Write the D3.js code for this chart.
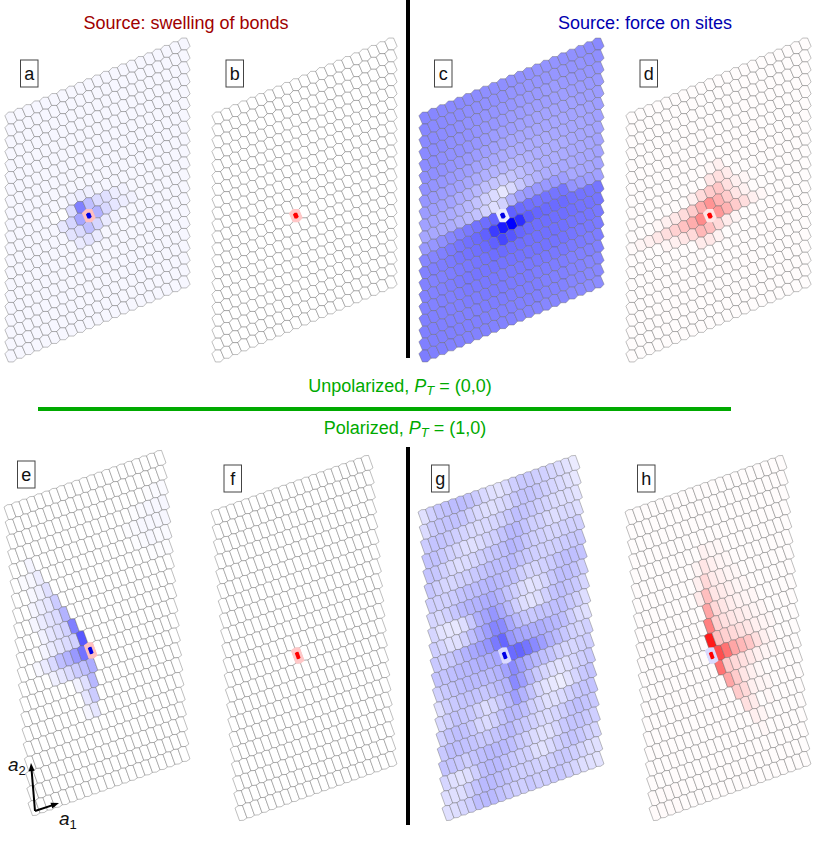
<!DOCTYPE html>
<html>
<head>
<meta charset="utf-8">
<script src="https://cdn.jsdelivr.net/npm/d3@7"></script>
<style>
  body { margin: 0; background: #fff; }
  text { font-family: "Liberation Sans", Arial, sans-serif; }
</style>
</head>
<body>
<div id="chart"></div>
<script>
// lattice size, cells per side
var latticeSize = 21;
var markedCell = [9, 11];   // column, row counted from the top

var panelLabels = ["a", "b", "c", "d", "e", "f", "g", "h"];

// values are percent of full colour, + blue, - red
var markedValues = [-25, -22, 8, -10, -25, -22, 14, 14];
var markerSigns = [1, -1, 1, -1, 1, -1, 1, -1];
var baseValues = [3, 0, 0, -1, 0, 0, 0, -1];

// sparse panels: [column, row, value]
var spotsA = [[8,10,50],[9,10,25],[10,11,30],[8,11,35],[9,12,25],[10,12,16],[11,11,15],[12,11,10],[13,11,7],[14,11,5],[11,10,12],[12,10,7],[13,10,5],
  [10,10,14],[7,11,16],[7,10,13],[6,11,9],[7,12,11],[8,12,14],[8,13,8],[9,13,11],[10,13,8],[11,12,8],[12,12,5],[6,10,0],[5,10,1],[8,9,7],[9,9,6],[7,9,5]];
var spotsB = [];
var spotsD = [[8,11,-45],[7,11,-32],[6,11,-24],[5,11,-18],[4,11,-13],[3,11,-9],[2,11,-6],[1,11,-4],[0,11,-2],
  [7,10,-20],[6,10,-14],[5,10,-9],[4,10,-6],[3,10,-3],[8,12,-28],[7,12,-15],[6,12,-10],[5,12,-6],[4,12,-4],
  [9,10,-42],[9,9,-20],[10,9,-22],[10,8,-12],[10,7,-6],[9,8,-10],[11,8,-8],[8,10,-32],[8,9,-14],[7,9,-6],
  [10,11,-40],[11,11,-30],[12,11,-20],[13,11,-13],[14,11,-6],[15,11,-3],[10,10,-30],[11,10,-20],[12,10,-10],[13,10,-5],
  [9,12,-25],[10,12,-15],[11,12,-8],[12,12,-4],[9,13,-9],[8,13,-8],[10,13,-5],[11,9,-12],[12,9,-6],[13,9,-3],[9,7,-3]];
var spotsE = [[8,10,65],[7,9,50],[6,8,30],[5,7,20],[4,6,12],[3,5,7],[2,4,4],
  [8,11,55],[7,11,40],[6,11,30],[5,11,25],[4,11,15],[3,11,8],[2,11,3],
  [9,12,32],[9,13,28],[9,14,20],[9,15,10],[8,12,25],[8,13,12],[8,14,10],[8,15,4],[7,12,20],[6,12,14],[5,12,10],[4,12,6],[7,13,5],
  [7,10,18],[6,10,14],[5,10,11],[4,10,8],[3,10,4],[6,9,18],[5,9,13],[4,9,10],[3,9,5],[5,8,14],[4,8,11],[3,8,8],[2,8,4],
  [4,7,10],[3,7,7],[2,7,4],[3,6,6],[2,6,3],[2,5,3],[1,5,2],
  [18,2,1],[19,2,2],[20,2,2],[16,3,1],[17,3,2],[18,3,3],[19,3,3],[20,3,3],[15,4,1],[16,4,2],[17,4,3],[18,4,3],[19,4,3],[20,4,3],
  [16,5,1],[17,5,2],[18,5,3],[19,5,2],[20,5,2],[18,6,1],[19,6,1],[20,6,1]];
var spotsF = [];
var spotsH = [[9,10,-90],[9,9,-50],[9,8,-35],[9,7,-25],[9,6,-15],[9,5,-10],[9,4,-5],[8,7,-8],[8,6,-6],[8,5,-4],
  [10,11,-70],[11,11,-55],[12,11,-35],[13,11,-28],[14,11,-22],[15,11,-12],[16,11,-6],[17,11,-3],
  [10,12,-55],[11,13,-35],[12,14,-20],[13,15,-12],[14,16,-6],[15,17,-3],[12,13,-20],[13,14,-15],[14,15,-8],[15,16,-4],[13,13,-10],[14,14,-6],[15,14,-4],[14,13,-6],[15,13,-3],[16,14,-3],[16,15,-3],
  [11,12,-20],[12,12,-15],[13,12,-12],[14,12,-9],[15,12,-6],[16,12,-4],[17,12,-3],
  [10,10,-25],[11,10,-18],[12,10,-15],[13,10,-12],[14,10,-10],[15,10,-6],[16,10,-4],[17,10,-3],
  [10,9,-18],[11,9,-12],[12,9,-10],[13,9,-8],[14,9,-6],[15,9,-4],[16,9,-3],
  [10,8,-15],[11,8,-10],[12,8,-7],[13,8,-5],[14,8,-4],[15,8,-3],[10,7,-10],[11,7,-8],[12,7,-6],[13,7,-4],[14,7,-3],
  [10,6,-8],[11,6,-6],[12,6,-4],[13,6,-3],[10,5,-6],[11,5,-4],[12,5,-3],[10,4,-3],[11,4,-3],
  [0,19,-2],[1,19,-2],[2,19,-2],[3,19,-2],[0,20,-2],[1,20,-2],[2,20,-2],[3,20,-2]];

// dense panels, one line per lattice row from the top
var rowsC = [
  [47,47,46,46,46,45,45,44,44,44,43,43,43,42,42,42,43,43,44,45,46],
  [47,46,46,45,45,44,44,43,43,43,42,42,41,41,41,41,41,42,42,43,44],
  [46,46,45,45,44,43,43,42,42,41,41,40,40,40,39,39,40,40,41,41,42],
  [46,45,45,44,43,43,42,41,41,40,39,39,38,38,38,38,38,39,39,40,40],
  [45,45,44,43,43,42,41,40,39,38,38,37,37,36,36,36,37,37,38,38,39],
  [44,44,43,42,41,40,39,38,37,36,35,35,35,35,35,35,35,36,36,37,38],
  [43,42,41,40,39,38,36,35,34,33,33,33,33,33,33,34,34,35,35,36,37],
  [41,40,39,38,37,35,33,31,30,29,29,30,31,32,32,33,33,34,35,35,36],
  [39,38,37,36,33,31,28,25,23,21,23,26,29,31,32,32,33,34,34,35,36],
  [37,36,34,33,31,28,24,19,14,10,15,22,27,30,32,33,34,34,35,35,36],
  [35,34,33,32,30,27,24,18,13,18,30,38,40,40,40,40,38,34,35,35,36],
  [40,41,44,47,50,52,55,57,60,8,62,58,56,55,55,54,54,42,40,38,37],
  [47,48,50,52,54,56,58,62,76,90,100,82,64,60,58,58,58,56,55,54,54],
  [49,50,51,52,54,55,56,58,62,72,66,60,58,57,57,57,57,56,55,55,54],
  [49,49,50,51,52,53,54,55,57,58,57,57,56,56,56,56,56,55,54,54,53],
  [49,49,50,51,52,53,54,54,55,55,55,55,55,55,55,55,55,54,53,53,52],
  [49,49,50,50,51,52,52,53,53,53,53,53,53,53,53,53,53,52,52,51,51],
  [50,50,50,50,50,51,51,52,52,52,52,52,52,51,51,51,51,50,50,50,50],
  [50,50,50,50,50,50,50,51,51,51,51,51,51,51,50,50,50,49,49,48,48],
  [50,50,50,50,50,50,50,50,50,50,50,50,50,50,49,49,49,48,48,47,47],
  [51,50,50,49,49,49,49,49,49,49,49,48,48,48,47,47,47,46,46,45,45]
];
var rowsG = [
  [12,18,22,24,26,26,24,20,15,12,11,14,19,21,21,19,18,16,14,11,8],
  [14,20,22,23,24,22,18,15,13,12,14,16,21,23,23,21,18,16,14,12,9],
  [20,23,23,21,19,17,15,14,15,16,18,21,25,23,21,19,17,14,13,13,11],
  [23,24,21,18,16,13,12,14,17,19,23,27,27,23,19,18,15,13,15,15,13],
  [23,22,18,15,13,14,16,19,21,23,25,29,27,22,19,18,16,16,18,18,18],
  [22,19,16,16,18,19,21,23,25,26,25,27,23,21,19,18,18,19,20,21,21],
  [19,18,18,20,23,25,26,28,29,27,25,24,19,16,16,18,20,23,25,25,23],
  [16,15,18,22,27,29,30,32,33,29,23,19,14,11,12,16,21,25,25,23,19],
  [16,11,10,9,13,21,31,36,41,34,27,19,13,11,13,18,23,25,23,21,16],
  [19,16,12,12,18,25,32,38,48,46,34,27,23,21,23,23,25,25,21,18,13],
  [21,19,21,25,30,34,38,42,52,60,41,36,34,32,32,30,28,25,19,14,12],
  [23,23,25,27,28,30,32,32,34,14,58,60,54,46,38,31,27,22,18,16,18],
  [18,21,23,25,27,27,27,27,30,36,46,38,32,28,25,23,19,16,16,18,19],
  [13,19,21,23,23,23,22,24,27,30,46,38,28,21,16,13,11,12,16,19,21],
  [15,19,23,22,21,18,13,16,21,27,38,30,23,16,11,9,7,11,16,21,23],
  [18,23,25,24,21,16,14,18,23,28,28,25,19,16,12,12,14,18,21,23,23],
  [21,25,25,24,23,21,21,23,25,27,23,21,18,15,14,16,19,23,25,23,21],
  [23,23,21,19,23,25,27,27,27,25,21,18,14,12,12,16,21,23,23,21,19],
  [16,12,11,13,19,25,27,27,24,21,19,18,13,11,14,18,21,23,21,18,16],
  [13,12,13,18,23,27,27,25,23,20,19,19,18,16,18,21,21,19,16,13,12],
  [12,13,16,19,25,27,27,24,21,19,19,21,19,19,21,21,19,16,13,12,11]
];

var headings = ["Source: swelling of bonds", "Source: force on sites"];

var width = 814;
var height = 864;

// where each lattice starts (centre of the top left cell) and how it runs
var panelX = [11, 218, 425, 632, 10, 217, 424, 631];
var panelY = [118, 118, 118, 118, 512, 517, 517, 517];
var boxX = [20.5, 226, 434.5, 640, 17.5, 224, 431.5, 637.5];
var boxY = [60, 60, 60, 60, 461, 465, 465, 465];
var rowRuns = [0, 0, 0, 0, 1, 1, 1, 1];
var a1Span = [[173, -74], [150, -54]];
var a2Span = [[0, 238], [24, 296]];

var svg = d3.select("#chart").append("svg")
    .attr("width", width)
    .attr("height", height)
    .style("display", "block");

var colour = d3.scaleLinear()
    .domain([-100, 0, 100])
    .range(["#ff0000", "#ffffff", "#0000ff"]);

// turn sparse spots into a full table
function fillRows(base, spots) {
  var rows = d3.range(latticeSize).map(function() {
    return d3.range(latticeSize).map(function() { return base; });
  });
  spots.forEach(function(s) { rows[s[1]][s[0]] = s[2]; });
  return rows;
}

function circumcentre(p, q) {
  var d = 2 * (p[0] * q[1] - p[1] * q[0]);
  var pp = p[0] * p[0] + p[1] * p[1];
  var qq = q[0] * q[0] + q[1] * q[1];
  return [(q[1] * pp - p[1] * qq) / d, (p[0] * qq - q[0] * pp) / d];
}

// voronoi cell of the sheared triangular lattice
function cellShape(a1, a2) {
  var n = [a1, a2, [a2[0] - a1[0], a2[1] - a1[1]]];
  n = n.concat(n.map(function(v) { return [-v[0], -v[1]]; }));
  return n.map(function(v, i) { return circumcentre(v, n[(i + 1) % 6]); });
}

var allRows = [
  fillRows(baseValues[0], spotsA), fillRows(baseValues[1], spotsB), rowsC, fillRows(baseValues[3], spotsD),
  fillRows(baseValues[4], spotsE), fillRows(baseValues[5], spotsF), rowsG, fillRows(baseValues[7], spotsH)
];

var outline = d3.line().curve(d3.curveLinearClosed);

panelLabels.forEach(function(label, p) {
  var run = rowRuns[p];
  var xCol = d3.scaleLinear().domain([0, latticeSize - 1]).range([0, a1Span[run][0]]);
  var yCol = d3.scaleLinear().domain([0, latticeSize - 1]).range([0, a1Span[run][1]]);
  var xRow = d3.scaleLinear().domain([0, latticeSize - 1]).range([0, a2Span[run][0]]);
  var yRow = d3.scaleLinear().domain([0, latticeSize - 1]).range([0, a2Span[run][1]]);

  var a1 = [xCol(1), yCol(1)];
  var a2 = [-xRow(1), -yRow(1)];
  var shape = cellShape(a1, a2);

  var cells = [];
  allRows[p].forEach(function(row, r) {
    row.forEach(function(v, c) {
      var marked = c == markedCell[0] && r == markedCell[1];
      cells.push({c: c, r: r, v: marked ? markedValues[p] : v, marked: marked});
    });
  });

  var g = svg.append("g")
      .attr("transform", "translate(" + panelX[p] + "," + panelY[p] + ")");

  g.selectAll("path.cell")
    .data(cells)
    .enter()
    .append("path")
    .attr("class", "cell")
    .attr("transform", function(d) { return "translate(" + (xCol(d.c) + xRow(d.r)) + "," + (yCol(d.c) + yRow(d.r)) + ")"; })
    .attr("d", outline(shape))
    .attr("fill", function(d) { return colour(d.v); })
    .attr("stroke", "#666666")
    .attr("stroke-opacity", 0.42)
    .attr("stroke-width", 1)
    .attr("stroke-linejoin", "round");

  // source cell sits on top with no grey edge
  g.selectAll("path.cell")
    .filter(function(d) { return d.marked; })
    .raise()
    .attr("stroke", function(d) { return colour(d.v); })
    .attr("stroke-opacity", 1)
    .attr("stroke-width", 1.5);

  // small bar on the source cell
  var inner = shape.map(function(v) { return [v[0] * 0.48, v[1] * 0.48]; });
  g.append("path")
    .attr("transform", "translate(" + (xCol(markedCell[0]) + xRow(markedCell[1])) + "," + (yCol(markedCell[0]) + yRow(markedCell[1])) + ")")
    .attr("d", outline(inner))
    .attr("fill", markerSigns[p] > 0 ? "#0000e6" : "#ff0000")
    .attr("stroke", "none");

  // letter box
  svg.append("rect")
    .attr("x", boxX[p])
    .attr("y", boxY[p])
    .attr("width", 17.5)
    .attr("height", 27)
    .attr("fill", "#fff")
    .attr("stroke", "#444")
    .attr("stroke-width", 1);
  svg.append("text")
    .attr("x", boxX[p] + 8.75)
    .attr("y", boxY[p] + 19.5)
    .attr("text-anchor", "middle")
    .attr("font-size", 18)
    .attr("fill", "#111")
    .text(label);
});

// separators
svg.append("line").attr("x1", 408).attr("x2", 408).attr("y1", 0).attr("y2", 358)
    .attr("stroke", "#000").attr("stroke-width", 4);
svg.append("line").attr("x1", 408).attr("x2", 408).attr("y1", 447).attr("y2", 825)
    .attr("stroke", "#000").attr("stroke-width", 4);
svg.append("line").attr("x1", 38).attr("x2", 731).attr("y1", 409).attr("y2", 409)
    .attr("stroke", "#00aa00").attr("stroke-width", 4);

// headings
svg.append("text").attr("x", 186).attr("y", 29).attr("text-anchor", "middle")
    .attr("font-size", 18).attr("fill", "#a00000").text(headings[0]);
svg.append("text").attr("x", 645).attr("y", 29).attr("text-anchor", "middle")
    .attr("font-size", 18).attr("fill", "#0000b0").text(headings[1]);

function polarLabel(x, y, before, after) {
  var t = svg.append("text").attr("x", x).attr("y", y).attr("text-anchor", "middle")
      .attr("font-size", 18).attr("fill", "#00aa00");
  t.append("tspan").text(before);
  t.append("tspan").attr("font-style", "italic").text("P");
  t.append("tspan").attr("font-style", "italic").attr("font-size", 13).attr("dy", 3).text("T");
  t.append("tspan").attr("dy", -3).text(after);
}
polarLabel(400, 392, "Unpolarized, ", " = (0,0)");
polarLabel(405, 434, "Polarized, ", " = (1,0)");

// lattice vector arrows
var arrowOrigin = [35, 811];
var arrowTips = [[59, 803], [31, 763]];
var arrowNames = ["1", "2"];
var arrowLabelAt = [[59, 825], [8, 771]];

arrowTips.forEach(function(tip, i) {
  var dx = tip[0] - arrowOrigin[0], dy = tip[1] - arrowOrigin[1];
  var len = Math.sqrt(dx * dx + dy * dy);
  var ux = dx / len, uy = dy / len;
  svg.append("line")
    .attr("x1", arrowOrigin[0]).attr("y1", arrowOrigin[1])
    .attr("x2", tip[0] - ux * 5).attr("y2", tip[1] - uy * 5)
    .attr("stroke", "#000").attr("stroke-width", 2);
  svg.append("path")
    .attr("d", outline([tip,
      [tip[0] - ux * 8 - uy * 3, tip[1] - uy * 8 + ux * 3],
      [tip[0] - ux * 8 + uy * 3, tip[1] - uy * 8 - ux * 3]]))
    .attr("fill", "#000");
  var t = svg.append("text")
    .attr("x", arrowLabelAt[i][0]).attr("y", arrowLabelAt[i][1])
    .attr("font-size", 19).attr("fill", "#111");
  t.append("tspan").attr("font-style", "italic").text("a");
  t.append("tspan").attr("font-size", 13).attr("dy", 4).text(arrowNames[i]);
});
</script>
</body>
</html>
